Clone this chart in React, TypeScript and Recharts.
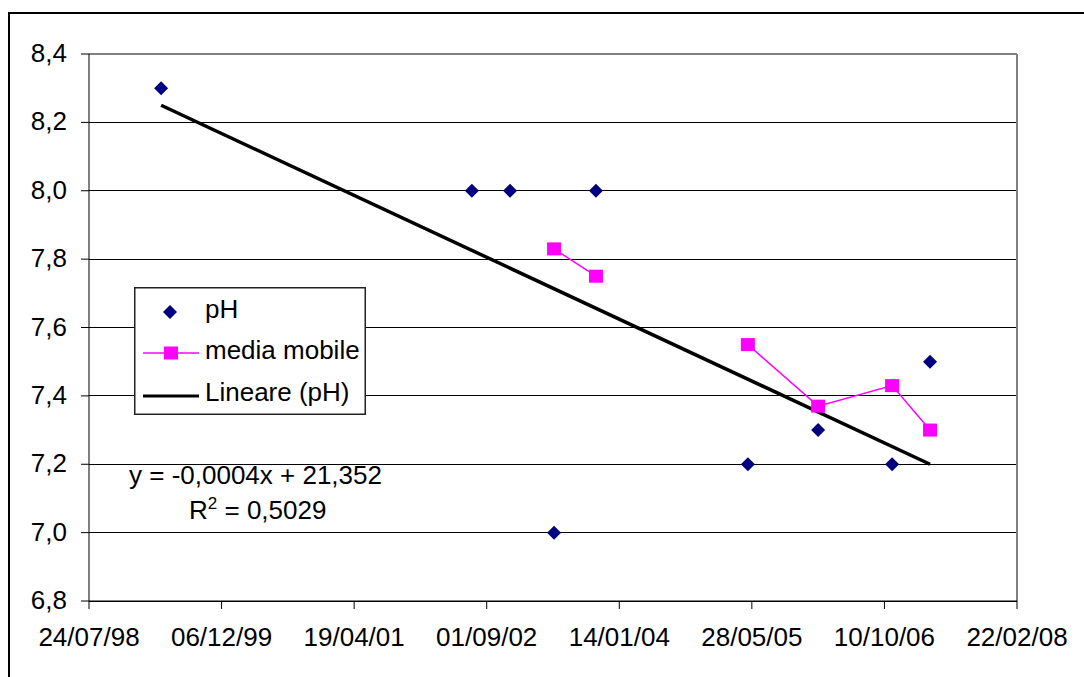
import { ScatterChart, Scatter, XAxis, YAxis, CartesianGrid, ReferenceLine, Legend } from 'recharts'

// dates are Excel serial days (36000 = 24/07/98)
const phDates = [36272, 37444, 37588, 37754, 37912, 38485, 38750, 39029, 39172]
const phValues = [8.3, 8.0, 8.0, 7.0, 8.0, 7.2, 7.3, 7.2, 7.5]
// moving average has a gap between the two runs
const mediaDatesA = [37754, 37912]
const mediaValuesA = [7.83, 7.75]
const mediaDatesB = [38485, 38750, 39029, 39172]
const mediaValuesB = [7.55, 7.37, 7.43, 7.3]
const trendDates = [36272, 39172]
const trendValues = [8.25, 7.2]
const xTicks = [36000, 36500, 37000, 37500, 38000, 38500, 39000, 39500]
const yTicks = [6.8, 7.0, 7.2, 7.4, 7.6, 7.8, 8.0, 8.2, 8.4]
const legendLabels = ['pH', 'media mobile', 'Lineare (pH)']
const equationText = 'y = -0,0004x + 21,352'
const r2Text = '0,5029'

const phData = phDates.map((x, i) => ({ x, y: phValues[i] }))
const mediaDataA = mediaDatesA.map((x, i) => ({ x, y: mediaValuesA[i] }))
const mediaDataB = mediaDatesB.map((x, i) => ({ x, y: mediaValuesB[i] }))
const trendData = trendDates.map((x, i) => ({ x, y: trendValues[i] }))

const FONT = '"Liberation Sans", Arial, sans-serif'
const FS = 26
const NAVY = '#000080'
const PINK = '#FF00FF'

function fmtDate(serial: number) {
  const d = new Date(Date.UTC(1899, 11, 30) + serial * 86400000)
  const p = (n: number) => String(n).padStart(2, '0')
  return `${p(d.getUTCDate())}/${p(d.getUTCMonth() + 1)}/${p(d.getUTCFullYear() % 100)}`
}

function XTick({ x, y, payload }: any) {
  return (
    <text x={x} y={y + 37} textAnchor="middle" fontSize={FS} fontFamily={FONT} fill="#000">
      {fmtDate(payload.value)}
    </text>
  )
}

function YTick({ x, y, payload }: any) {
  return (
    <text x={x - 14} y={y + 8} textAnchor="end" fontSize={FS} fontFamily={FONT} fill="#000">
      {payload.value.toFixed(1).replace('.', ',')}
    </text>
  )
}

const Diamond = ({ cx, cy }: any) => (
  <polygon points={`${cx},${cy - 7} ${cx + 7},${cy} ${cx},${cy + 7} ${cx - 7},${cy}`} fill={NAVY} />
)
const Square = ({ cx, cy }: any) => <rect x={cx - 7} y={cy - 6.5} width={14} height={13} fill={PINK} />
const NoDot = () => <g />

function LegendBox() {
  const txt = (label: string, y: number) => (
    <text x={71} y={y} fontSize={FS} fontFamily={FONT} fill="#000">{label}</text>
  )
  return (
    <svg width={232} height={128} style={{ display: 'block' }}>
      <rect x={0.75} y={0.75} width={230.5} height={126.5} fill="#fff" stroke="#222" strokeWidth={1.5} />
      <Diamond cx={36} cy={25} />
      {txt(legendLabels[0], 31)}
      <line x1={9} x2={65} y1={66} y2={66} stroke={PINK} strokeWidth={1.5} />
      <Square cx={37} cy={66} />
      {txt(legendLabels[1], 72)}
      <line x1={9} x2={65} y1={109} y2={109} stroke="#000" strokeWidth={3} />
      {txt(legendLabels[2], 114)}
    </svg>
  )
}

export default function App() {
  return (
    <div style={{ position: 'fixed', left: 0, top: 0, width: 1084, height: 677, overflow: 'hidden', background: '#fff' }}>
      <div style={{ position: 'absolute', left: 8, top: 12, width: 1200, height: 800, borderTop: '2px solid #000', borderLeft: '2px solid #000' }} />
      <div style={{ position: 'absolute', left: 0, top: 0 }}>
        <ScatterChart width={1084} height={677} margin={{ top: 54, right: 67, bottom: 0, left: 0 }}>
          <CartesianGrid vertical={false} stroke="#000" strokeWidth={1} shapeRendering="crispEdges" />
          <XAxis type="number" dataKey="x" domain={[36000, 39500]} ticks={xTicks} height={76}
            stroke="#000" tickSize={8} tickMargin={0} tick={<XTick />} />
          <YAxis type="number" dataKey="y" domain={[6.8, 8.4]} ticks={yTicks} width={89}
            stroke="#000" tickSize={8} tickMargin={0} tick={<YTick />} />
          <ReferenceLine y={8.4} stroke="#808080" strokeWidth={2} />
          <ReferenceLine x={39500} stroke="#808080" strokeWidth={2} />
          <Scatter name={legendLabels[2]} data={trendData} fill="#000" line={{ stroke: '#000', strokeWidth: 3.5 }}
            shape={<NoDot />} isAnimationActive={false} />
          <Scatter name={legendLabels[1]} data={mediaDataA} fill={PINK} line={{ stroke: PINK, strokeWidth: 1.5 }}
            shape={<Square />} isAnimationActive={false} />
          <Scatter name={legendLabels[1] + ' '} data={mediaDataB} fill={PINK} line={{ stroke: PINK, strokeWidth: 1.5 }}
            shape={<Square />} isAnimationActive={false} />
          <Scatter name={legendLabels[0]} data={phData} fill={NAVY} shape={<Diamond />} isAnimationActive={false} />
          <Legend layout="vertical" align="center" verticalAlign="middle" content={() => <LegendBox />}
            wrapperStyle={{ position: 'absolute', left: 134, top: 287, width: 232, height: 128 }} />
        </ScatterChart>
      </div>
      <svg width={1084} height={677} style={{ position: 'absolute', left: 0, top: 0, pointerEvents: 'none' }}>
        <text x={129} y={484} fontSize={FS} fontFamily={FONT} fill="#000">{equationText}</text>
        <text x={189} y={519} fontSize={FS} fontFamily={FONT} fill="#000">
          R<tspan fontSize={17} dy={-10}>2</tspan><tspan dy={10}> = {r2Text}</tspan>
        </text>
      </svg>
    </div>
  )
}
